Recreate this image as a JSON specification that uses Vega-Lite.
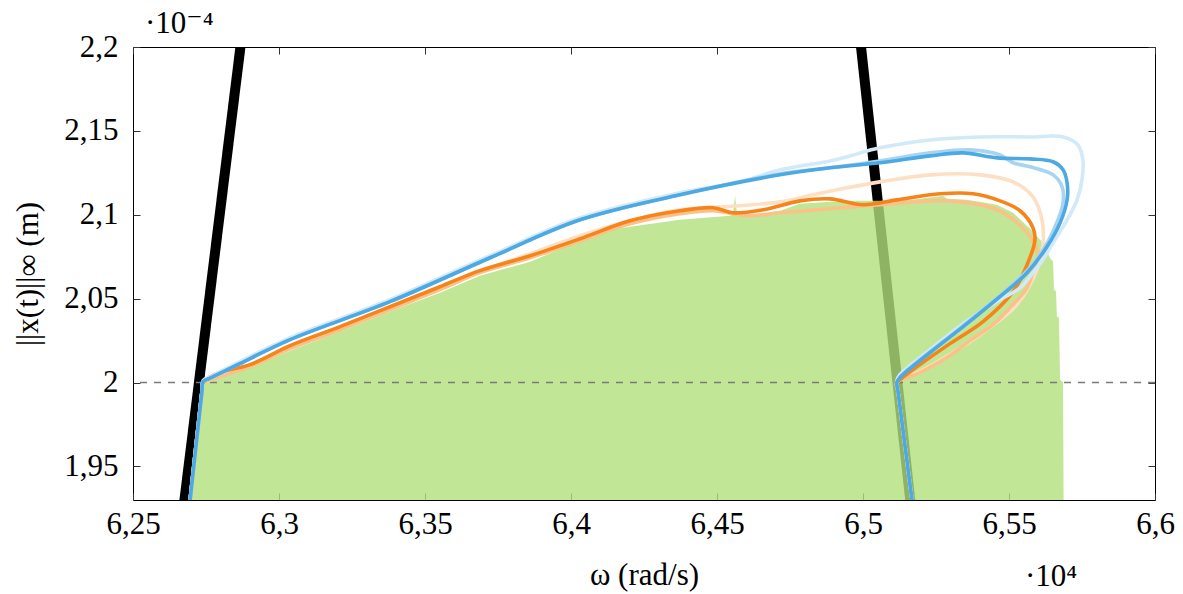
{
  "$schema": "https://vega.github.io/schema/vega-lite/v6.json",
  "width": 1022,
  "height": 453,
  "autosize": "none",
  "padding": {"left": 133, "top": 47, "right": 28, "bottom": 94},
  "background": "white",
  "config": {
    "view": {"stroke": "black", "strokeWidth": 1},
    "font": "Liberation Serif, DejaVu Serif, serif",
    "axis": {"labelFont": "Liberation Serif, DejaVu Serif, serif", "labelFontSize": 31, "labelColor": "black", "labelFlush": false, "titleFont": "Liberation Serif, DejaVu Serif, serif", "titleFontSize": 31, "titleFontWeight": "normal", "titleColor": "black", "domain": false, "grid": false, "tickSize": -7, "tickColor": "#333333", "tickWidth": 1}
  },
  "datasets": {
    "black": [
      {"s": "L", "i": 0, "x": 6.2669, "y": 1.92},
      {"s": "L", "i": 1, "x": 6.2875, "y": 2.21},
      {"s": "R", "i": 0, "x": 6.4987, "y": 2.21},
      {"s": "R", "i": 1, "x": 6.5168, "y": 1.92}
    ],
    "green": [
      {"x": 6.2695, "y": 1.93},
      {"x": 6.2740, "y": 2.0},
      {"x": 6.2901, "y": 2.0089},
      {"x": 6.3038, "y": 2.0190},
      {"x": 6.3209, "y": 2.0304},
      {"x": 6.3380, "y": 2.0423},
      {"x": 6.3551, "y": 2.0536},
      {"x": 6.3688, "y": 2.0637},
      {"x": 6.3860, "y": 2.0720},
      {"x": 6.4031, "y": 2.0845},
      {"x": 6.4110, "y": 2.0905},
      {"x": 6.4202, "y": 2.0929},
      {"x": 6.4373, "y": 2.0970},
      {"x": 6.4545, "y": 2.0994},
      {"x": 6.4555, "y": 2.1006},
      {"x": 6.4562, "y": 2.1113},
      {"x": 6.4568, "y": 2.1012},
      {"x": 6.4603, "y": 2.0994},
      {"x": 6.4716, "y": 2.1024},
      {"x": 6.4784, "y": 2.1065},
      {"x": 6.4945, "y": 2.1083},
      {"x": 6.5058, "y": 2.1083},
      {"x": 6.5171, "y": 2.1089},
      {"x": 6.5274, "y": 2.1113},
      {"x": 6.5288, "y": 2.1095},
      {"x": 6.5356, "y": 2.1089},
      {"x": 6.5459, "y": 2.1060},
      {"x": 6.5514, "y": 2.1012},
      {"x": 6.5572, "y": 2.0917},
      {"x": 6.5616, "y": 2.0833},
      {"x": 6.5630, "y": 2.0786},
      {"x": 6.5640, "y": 2.0744},
      {"x": 6.5651, "y": 2.0720},
      {"x": 6.5654, "y": 2.0554},
      {"x": 6.5661, "y": 2.0542},
      {"x": 6.5664, "y": 2.0393},
      {"x": 6.5671, "y": 2.0387},
      {"x": 6.5675, "y": 2.0018},
      {"x": 6.5682, "y": 2.0006},
      {"x": 6.5685, "y": 2.0},
      {"x": 6.5687, "y": 1.93}
    ],
    "curves": [
      {"s": "O3", "i": 0, "x": 6.2692, "y": 1.9244},
      {"s": "O3", "i": 0.9, "x": 6.2736, "y": 1.9946},
      {"s": "O3", "i": 1, "x": 6.2740, "y": 2.0},
      {"s": "O3", "i": 1.5, "x": 6.2764, "y": 2.0015},
      {"s": "O3", "i": 2, "x": 6.2901, "y": 2.0101},
      {"s": "O3", "i": 3, "x": 6.3038, "y": 2.0208},
      {"s": "O3", "i": 4, "x": 6.3209, "y": 2.0321},
      {"s": "O3", "i": 5, "x": 6.3380, "y": 2.0440},
      {"s": "O3", "i": 6, "x": 6.3551, "y": 2.0560},
      {"s": "O3", "i": 7, "x": 6.3688, "y": 2.0661},
      {"s": "O3", "i": 8, "x": 6.3860, "y": 2.0768},
      {"s": "O3", "i": 9, "x": 6.4031, "y": 2.0875},
      {"s": "O3", "i": 10, "x": 6.4202, "y": 2.0964},
      {"s": "O3", "i": 11, "x": 6.4373, "y": 2.1030},
      {"s": "O3", "i": 12, "x": 6.4579, "y": 2.1054},
      {"s": "O3", "i": 13, "x": 6.4716, "y": 2.1077},
      {"s": "O3", "i": 14, "x": 6.4829, "y": 2.1119},
      {"s": "O3", "i": 15, "x": 6.4945, "y": 2.1161},
      {"s": "O3", "i": 16, "x": 6.5058, "y": 2.1196},
      {"s": "O3", "i": 17, "x": 6.5230, "y": 2.1238},
      {"s": "O3", "i": 18, "x": 6.5401, "y": 2.1238},
      {"s": "O3", "i": 19, "x": 6.5514, "y": 2.1196},
      {"s": "O3", "i": 20, "x": 6.5582, "y": 2.1107},
      {"s": "O3", "i": 21, "x": 6.5613, "y": 2.0970},
      {"s": "O3", "i": 22, "x": 6.5616, "y": 2.0821},
      {"s": "O3", "i": 23, "x": 6.5596, "y": 2.0673},
      {"s": "O3", "i": 24, "x": 6.5527, "y": 2.0464},
      {"s": "O3", "i": 25, "x": 6.5411, "y": 2.0298},
      {"s": "O3", "i": 26, "x": 6.5298, "y": 2.0167},
      {"s": "O3", "i": 27, "x": 6.5195, "y": 2.0065},
      {"s": "O3", "i": 28, "x": 6.5116, "y": 2.0},
      {"s": "O3", "i": 28.5, "x": 6.5120, "y": 1.9946},
      {"s": "O3", "i": 29, "x": 6.5172, "y": 1.9244},

      {"s": "O2", "i": 0, "x": 6.2692, "y": 1.9244},
      {"s": "O2", "i": 0.9, "x": 6.2736, "y": 1.9946},
      {"s": "O2", "i": 1, "x": 6.2740, "y": 2.0},
      {"s": "O2", "i": 1.5, "x": 6.2764, "y": 2.0015},
      {"s": "O2", "i": 2, "x": 6.2901, "y": 2.0095},
      {"s": "O2", "i": 3, "x": 6.3038, "y": 2.0202},
      {"s": "O2", "i": 4, "x": 6.3209, "y": 2.0315},
      {"s": "O2", "i": 5, "x": 6.3380, "y": 2.0435},
      {"s": "O2", "i": 6, "x": 6.3551, "y": 2.0554},
      {"s": "O2", "i": 7, "x": 6.3688, "y": 2.0655},
      {"s": "O2", "i": 8, "x": 6.3860, "y": 2.0744},
      {"s": "O2", "i": 9, "x": 6.4031, "y": 2.0845},
      {"s": "O2", "i": 10, "x": 6.4202, "y": 2.0946},
      {"s": "O2", "i": 11, "x": 6.4373, "y": 2.1006},
      {"s": "O2", "i": 12, "x": 6.4486, "y": 2.1024},
      {"s": "O2", "i": 13, "x": 6.4603, "y": 2.0994},
      {"s": "O2", "i": 14, "x": 6.4716, "y": 2.1012},
      {"s": "O2", "i": 15, "x": 6.4887, "y": 2.1036},
      {"s": "O2", "i": 16, "x": 6.5058, "y": 2.1060},
      {"s": "O2", "i": 17, "x": 6.5288, "y": 2.1083},
      {"s": "O2", "i": 18, "x": 6.5459, "y": 2.1030},
      {"s": "O2", "i": 19, "x": 6.5562, "y": 2.0893},
      {"s": "O2", "i": 20, "x": 6.5599, "y": 2.0762},
      {"s": "O2", "i": 21, "x": 6.5582, "y": 2.0661},
      {"s": "O2", "i": 22, "x": 6.5562, "y": 2.0565},
      {"s": "O2", "i": 23, "x": 6.5503, "y": 2.0446},
      {"s": "O2", "i": 24, "x": 6.5445, "y": 2.0345},
      {"s": "O2", "i": 25, "x": 6.5366, "y": 2.0250},
      {"s": "O2", "i": 26, "x": 6.5298, "y": 2.0161},
      {"s": "O2", "i": 27, "x": 6.5195, "y": 2.0060},
      {"s": "O2", "i": 28, "x": 6.5116, "y": 2.0},
      {"s": "O2", "i": 28.5, "x": 6.5120, "y": 1.9946},
      {"s": "O2", "i": 29, "x": 6.5172, "y": 1.9244},

      {"s": "O1", "i": 0, "x": 6.2692, "y": 1.9244},
      {"s": "O1", "i": 0.9, "x": 6.2736, "y": 1.9946},
      {"s": "O1", "i": 1, "x": 6.2740, "y": 2.0},
      {"s": "O1", "i": 2, "x": 6.2788, "y": 2.0054},
      {"s": "O1", "i": 3, "x": 6.2901, "y": 2.0107},
      {"s": "O1", "i": 4, "x": 6.3038, "y": 2.0220},
      {"s": "O1", "i": 5, "x": 6.3209, "y": 2.0333},
      {"s": "O1", "i": 6, "x": 6.3380, "y": 2.0452},
      {"s": "O1", "i": 7, "x": 6.3551, "y": 2.0571},
      {"s": "O1", "i": 8, "x": 6.3688, "y": 2.0667},
      {"s": "O1", "i": 9, "x": 6.3860, "y": 2.0756},
      {"s": "O1", "i": 10, "x": 6.4031, "y": 2.0857},
      {"s": "O1", "i": 11, "x": 6.4202, "y": 2.0964},
      {"s": "O1", "i": 12, "x": 6.4373, "y": 2.1024},
      {"s": "O1", "i": 13, "x": 6.4486, "y": 2.1042},
      {"s": "O1", "i": 14, "x": 6.4555, "y": 2.1012},
      {"s": "O1", "i": 15, "x": 6.4658, "y": 2.1030},
      {"s": "O1", "i": 16, "x": 6.4784, "y": 2.1083},
      {"s": "O1", "i": 17, "x": 6.4887, "y": 2.1095},
      {"s": "O1", "i": 18, "x": 6.5000, "y": 2.1060},
      {"s": "O1", "i": 19, "x": 6.5116, "y": 2.1089},
      {"s": "O1", "i": 20, "x": 6.5264, "y": 2.1125},
      {"s": "O1", "i": 21, "x": 6.5377, "y": 2.1125},
      {"s": "O1", "i": 22, "x": 6.5469, "y": 2.1083},
      {"s": "O1", "i": 23, "x": 6.5538, "y": 2.1024},
      {"s": "O1", "i": 24, "x": 6.5582, "y": 2.0923},
      {"s": "O1", "i": 25, "x": 6.5589, "y": 2.0851},
      {"s": "O1", "i": 26, "x": 6.5562, "y": 2.0702},
      {"s": "O1", "i": 27, "x": 6.5514, "y": 2.0542},
      {"s": "O1", "i": 28, "x": 6.5411, "y": 2.0363},
      {"s": "O1", "i": 29, "x": 6.5298, "y": 2.0232},
      {"s": "O1", "i": 30, "x": 6.5195, "y": 2.0107},
      {"s": "O1", "i": 31, "x": 6.5127, "y": 2.0018},
      {"s": "O1", "i": 32, "x": 6.5116, "y": 2.0},
      {"s": "O1", "i": 32.5, "x": 6.5120, "y": 1.9946},
      {"s": "O1", "i": 33, "x": 6.5172, "y": 1.9244},

      {"s": "B3", "i": 0, "x": 6.2692, "y": 1.9244},
      {"s": "B3", "i": 0.9, "x": 6.2736, "y": 1.9946},
      {"s": "B3", "i": 1, "x": 6.2740, "y": 2.0012},
      {"s": "B3", "i": 1.5, "x": 6.2764, "y": 2.0033},
      {"s": "B3", "i": 2, "x": 6.2866, "y": 2.0125},
      {"s": "B3", "i": 3, "x": 6.3038, "y": 2.0268},
      {"s": "B3", "i": 4, "x": 6.3380, "y": 2.0494},
      {"s": "B3", "i": 5, "x": 6.3723, "y": 2.0756},
      {"s": "B3", "i": 6, "x": 6.4031, "y": 2.0982},
      {"s": "B3", "i": 7, "x": 6.4373, "y": 2.1131},
      {"s": "B3", "i": 8, "x": 6.4579, "y": 2.1196},
      {"s": "B3", "i": 9, "x": 6.4716, "y": 2.1268},
      {"s": "B3", "i": 10, "x": 6.4887, "y": 2.1321},
      {"s": "B3", "i": 11, "x": 6.4955, "y": 2.1351},
      {"s": "B3", "i": 12, "x": 6.5058, "y": 2.1399},
      {"s": "B3", "i": 13, "x": 6.5230, "y": 2.1446},
      {"s": "B3", "i": 14, "x": 6.5401, "y": 2.1464},
      {"s": "B3", "i": 15, "x": 6.5572, "y": 2.1464},
      {"s": "B3", "i": 16, "x": 6.5685, "y": 2.1464},
      {"s": "B3", "i": 17, "x": 6.5736, "y": 2.1417},
      {"s": "B3", "i": 18, "x": 6.5753, "y": 2.1327},
      {"s": "B3", "i": 19, "x": 6.5750, "y": 2.1208},
      {"s": "B3", "i": 20, "x": 6.5733, "y": 2.1089},
      {"s": "B3", "i": 21, "x": 6.5699, "y": 2.0970},
      {"s": "B3", "i": 22, "x": 6.5651, "y": 2.0833},
      {"s": "B3", "i": 23, "x": 6.5616, "y": 2.0732},
      {"s": "B3", "i": 24, "x": 6.5582, "y": 2.0655},
      {"s": "B3", "i": 25, "x": 6.5538, "y": 2.0565},
      {"s": "B3", "i": 26, "x": 6.5469, "y": 2.0494},
      {"s": "B3", "i": 27, "x": 6.5343, "y": 2.0351},
      {"s": "B3", "i": 28, "x": 6.5230, "y": 2.0196},
      {"s": "B3", "i": 29, "x": 6.5127, "y": 2.0048},
      {"s": "B3", "i": 30, "x": 6.5116, "y": 2.0012},
      {"s": "B3", "i": 30.5, "x": 6.5120, "y": 1.9946},
      {"s": "B3", "i": 31, "x": 6.5172, "y": 1.9244},

      {"s": "B2", "i": 0, "x": 6.2692, "y": 1.9244},
      {"s": "B2", "i": 0.9, "x": 6.2736, "y": 1.9946},
      {"s": "B2", "i": 1, "x": 6.2740, "y": 2.0006},
      {"s": "B2", "i": 1.5, "x": 6.2764, "y": 2.0026},
      {"s": "B2", "i": 2, "x": 6.2866, "y": 2.0113},
      {"s": "B2", "i": 3, "x": 6.3038, "y": 2.0256},
      {"s": "B2", "i": 4, "x": 6.3380, "y": 2.0482},
      {"s": "B2", "i": 5, "x": 6.3723, "y": 2.0744},
      {"s": "B2", "i": 6, "x": 6.4031, "y": 2.0970},
      {"s": "B2", "i": 7, "x": 6.4373, "y": 2.1119},
      {"s": "B2", "i": 8, "x": 6.4716, "y": 2.1244},
      {"s": "B2", "i": 9, "x": 6.4887, "y": 2.1280},
      {"s": "B2", "i": 10, "x": 6.5058, "y": 2.1321},
      {"s": "B2", "i": 11, "x": 6.5230, "y": 2.1369},
      {"s": "B2", "i": 12, "x": 6.5366, "y": 2.1387},
      {"s": "B2", "i": 13, "x": 6.5469, "y": 2.1357},
      {"s": "B2", "i": 14, "x": 6.5514, "y": 2.1310},
      {"s": "B2", "i": 15, "x": 6.5572, "y": 2.1286},
      {"s": "B2", "i": 16, "x": 6.5651, "y": 2.1238},
      {"s": "B2", "i": 17, "x": 6.5682, "y": 2.1167},
      {"s": "B2", "i": 18, "x": 6.5685, "y": 2.1071},
      {"s": "B2", "i": 19, "x": 6.5658, "y": 2.0929},
      {"s": "B2", "i": 20, "x": 6.5613, "y": 2.0780},
      {"s": "B2", "i": 21, "x": 6.5562, "y": 2.0667},
      {"s": "B2", "i": 22, "x": 6.5469, "y": 2.0518},
      {"s": "B2", "i": 23, "x": 6.5343, "y": 2.0339},
      {"s": "B2", "i": 24, "x": 6.5230, "y": 2.0185},
      {"s": "B2", "i": 25, "x": 6.5127, "y": 2.0036},
      {"s": "B2", "i": 26, "x": 6.5116, "y": 2.0},
      {"s": "B2", "i": 26.5, "x": 6.5120, "y": 1.9946},
      {"s": "B2", "i": 27, "x": 6.5172, "y": 1.9244},

      {"s": "B1", "i": 0, "x": 6.2692, "y": 1.9244},
      {"s": "B1", "i": 0.9, "x": 6.2736, "y": 1.9946},
      {"s": "B1", "i": 1, "x": 6.2740, "y": 2.0006},
      {"s": "B1", "i": 1.5, "x": 6.2764, "y": 2.0026},
      {"s": "B1", "i": 2, "x": 6.2866, "y": 2.0113},
      {"s": "B1", "i": 3, "x": 6.3038, "y": 2.0256},
      {"s": "B1", "i": 4, "x": 6.3380, "y": 2.0482},
      {"s": "B1", "i": 5, "x": 6.3723, "y": 2.0744},
      {"s": "B1", "i": 6, "x": 6.4031, "y": 2.0970},
      {"s": "B1", "i": 7, "x": 6.4373, "y": 2.1119},
      {"s": "B1", "i": 8, "x": 6.4716, "y": 2.1238},
      {"s": "B1", "i": 9, "x": 6.4887, "y": 2.1280},
      {"s": "B1", "i": 10, "x": 6.5058, "y": 2.1310},
      {"s": "B1", "i": 11, "x": 6.5230, "y": 2.1351},
      {"s": "B1", "i": 12, "x": 6.5343, "y": 2.1369},
      {"s": "B1", "i": 13, "x": 6.5459, "y": 2.1339},
      {"s": "B1", "i": 14, "x": 6.5572, "y": 2.1333},
      {"s": "B1", "i": 15, "x": 6.5651, "y": 2.1316},
      {"s": "B1", "i": 16, "x": 6.5685, "y": 2.1268},
      {"s": "B1", "i": 17, "x": 6.5699, "y": 2.1190},
      {"s": "B1", "i": 18, "x": 6.5699, "y": 2.1089},
      {"s": "B1", "i": 19, "x": 6.5675, "y": 2.0952},
      {"s": "B1", "i": 20, "x": 6.5630, "y": 2.0810},
      {"s": "B1", "i": 21, "x": 6.5562, "y": 2.0655},
      {"s": "B1", "i": 22, "x": 6.5469, "y": 2.0512},
      {"s": "B1", "i": 23, "x": 6.5343, "y": 2.0333},
      {"s": "B1", "i": 24, "x": 6.5230, "y": 2.0179},
      {"s": "B1", "i": 25, "x": 6.5127, "y": 2.0030},
      {"s": "B1", "i": 26, "x": 6.5116, "y": 2.0},
      {"s": "B1", "i": 26.5, "x": 6.5120, "y": 1.9946},
      {"s": "B1", "i": 27, "x": 6.5172, "y": 1.9244}
    ]
  },
  "layer": [
    {
      "data": {"name": "black"},
      "mark": {"type": "line", "color": "black", "strokeWidth": 10, "clip": true},
      "encoding": {
        "x": {"field": "x", "type": "quantitative", "scale": {"domain": [6.25, 6.6], "nice": false, "zero": false}, "axis": null},
        "y": {"field": "y", "type": "quantitative", "scale": {"domain": [1.93, 2.2], "nice": false, "zero": false}, "axis": null},
        "detail": {"field": "s"},
        "order": {"field": "i"}
      }
    },
    {
      "data": {"name": "green"},
      "mark": {"type": "area", "color": "#b2e07b", "opacity": 0.8, "clip": true},
      "encoding": {
        "x": {"field": "x", "type": "quantitative", "scale": {"domain": [6.25, 6.6], "nice": false, "zero": false},
              "axis": {"orient": "top", "values": [6.25, 6.3, 6.35, 6.4, 6.45, 6.5, 6.55, 6.6], "labels": false, "title": null}},
        "y": {"field": "y", "type": "quantitative", "scale": {"domain": [1.93, 2.2], "nice": false, "zero": false},
              "axis": {"orient": "right", "values": [1.95, 2, 2.05, 2.1, 2.15, 2.2], "labels": false, "title": null}},
        "y2": {"datum": 1.93}
      }
    },
    {
      "data": {"values": [{}]},
      "mark": {"type": "rule", "color": "#7a7a7a", "strokeDash": [7, 7], "strokeWidth": 1.4},
      "encoding": {
        "y": {"datum": 2.0, "type": "quantitative", "scale": {"domain": [1.93, 2.2], "nice": false, "zero": false}, "axis": null}
      }
    },
    {
      "data": {"name": "curves"},
      "mark": {"type": "line", "strokeWidth": 3.6, "clip": true, "strokeJoin": "round", "strokeCap": "round", "interpolate": "catmull-rom"},
      "encoding": {
        "x": {"field": "x", "type": "quantitative", "scale": {"domain": [6.25, 6.6], "nice": false, "zero": false},
              "axis": {"orient": "bottom", "values": [6.25, 6.3, 6.35, 6.4, 6.45, 6.5, 6.55, 6.6], "labelExpr": "replace(format(datum.value, '.2~f'), '.', ',')", "labelPadding": 16, "title": "ω (rad/s)", "titlePadding": 21}},
        "y": {"field": "y", "type": "quantitative", "scale": {"domain": [1.93, 2.2], "nice": false, "zero": false},
              "axis": {"orient": "left", "values": [1.95, 2, 2.05, 2.1, 2.15, 2.2], "labelExpr": "replace(format(datum.value, '.2~f'), '.', ',')", "labelPadding": 22, "title": "||x(t)||∞ (m)", "titlePadding": 19}},
        "color": {"field": "s", "type": "nominal", "scale": {"domain": ["O3", "O2", "O1", "B3", "B2", "B1"], "range": ["#fde0c4", "#fbc189", "#f7841a", "#d2e9f8", "#a6d4f1", "#4da9e4"]}, "legend": null},
        "order": {"field": "i"}
      }
    },
    {
      "data": {"values": [{}]},
      "mark": {"type": "text", "text": "·10⁴", "font": "Liberation Serif, DejaVu Serif, serif", "fontSize": 31, "align": "center", "baseline": "middle", "color": "black", "clip": false},
      "encoding": {
        "x": {"datum": 6.5644, "type": "quantitative", "scale": {"domain": [6.25, 6.6], "nice": false, "zero": false}, "axis": null},
        "y": {"datum": 1.8839, "type": "quantitative", "scale": {"domain": [1.93, 2.2], "nice": false, "zero": false}, "axis": null}
      }
    },
    {
      "data": {"values": [{}]},
      "mark": {"type": "text", "text": "·10⁻⁴", "font": "Liberation Serif, DejaVu Serif, serif", "fontSize": 31, "align": "left", "baseline": "alphabetic", "color": "black", "clip": false},
      "encoding": {
        "x": {"datum": 6.2541, "type": "quantitative", "scale": {"domain": [6.25, 6.6], "nice": false, "zero": false}, "axis": null},
        "y": {"datum": 2.2083, "type": "quantitative", "scale": {"domain": [1.93, 2.2], "nice": false, "zero": false}, "axis": null}
      }
    }
  ],
  "resolve": {"axis": {"x": "independent", "y": "independent"}}
}
